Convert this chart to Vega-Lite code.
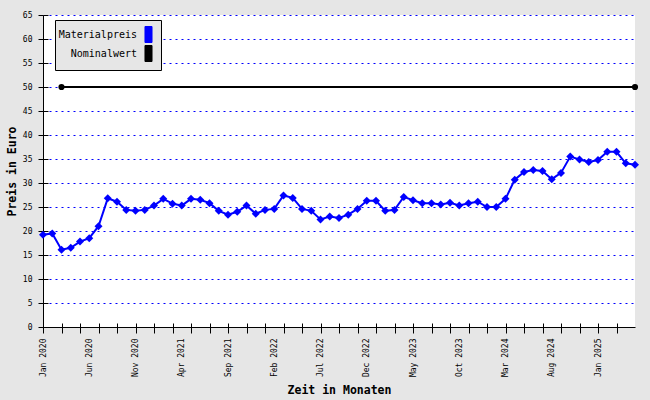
{
  "$schema": "https://vega.github.io/schema/vega-lite/v6.json",
  "width": 592,
  "height": 312,
  "autosize": {"type": "none"},
  "padding": {"left": 43, "top": 15, "right": 15, "bottom": 73},
  "background": "#e6e6e6",
  "config": {
    "view": {"fill": "#ffffff", "stroke": null},
    "font": "DejaVu Sans Mono",
    "axis": {
      "domainColor": "#000000",
      "tickColor": "#000000",
      "labelColor": "#000000",
      "titleColor": "#000000",
      "labelFont": "DejaVu Sans Mono",
      "titleFont": "DejaVu Sans Mono"
    }
  },
  "data": {
    "values": [
      {"series": "Materialpreis", "month": "2020-01", "price": 19.2},
      {"series": "Materialpreis", "month": "2020-02", "price": 19.5},
      {"series": "Materialpreis", "month": "2020-03", "price": 16.1},
      {"series": "Materialpreis", "month": "2020-04", "price": 16.5},
      {"series": "Materialpreis", "month": "2020-05", "price": 17.8},
      {"series": "Materialpreis", "month": "2020-06", "price": 18.5},
      {"series": "Materialpreis", "month": "2020-07", "price": 21.0},
      {"series": "Materialpreis", "month": "2020-08", "price": 26.8},
      {"series": "Materialpreis", "month": "2020-09", "price": 26.1},
      {"series": "Materialpreis", "month": "2020-10", "price": 24.4},
      {"series": "Materialpreis", "month": "2020-11", "price": 24.2},
      {"series": "Materialpreis", "month": "2020-12", "price": 24.4},
      {"series": "Materialpreis", "month": "2021-01", "price": 25.3},
      {"series": "Materialpreis", "month": "2021-02", "price": 26.7},
      {"series": "Materialpreis", "month": "2021-03", "price": 25.7},
      {"series": "Materialpreis", "month": "2021-04", "price": 25.3},
      {"series": "Materialpreis", "month": "2021-05", "price": 26.7},
      {"series": "Materialpreis", "month": "2021-06", "price": 26.5},
      {"series": "Materialpreis", "month": "2021-07", "price": 25.8},
      {"series": "Materialpreis", "month": "2021-08", "price": 24.2},
      {"series": "Materialpreis", "month": "2021-09", "price": 23.4},
      {"series": "Materialpreis", "month": "2021-10", "price": 24.0},
      {"series": "Materialpreis", "month": "2021-11", "price": 25.3},
      {"series": "Materialpreis", "month": "2021-12", "price": 23.6},
      {"series": "Materialpreis", "month": "2022-01", "price": 24.4},
      {"series": "Materialpreis", "month": "2022-02", "price": 24.6},
      {"series": "Materialpreis", "month": "2022-03", "price": 27.4},
      {"series": "Materialpreis", "month": "2022-04", "price": 26.9},
      {"series": "Materialpreis", "month": "2022-05", "price": 24.6},
      {"series": "Materialpreis", "month": "2022-06", "price": 24.2},
      {"series": "Materialpreis", "month": "2022-07", "price": 22.4},
      {"series": "Materialpreis", "month": "2022-08", "price": 23.0},
      {"series": "Materialpreis", "month": "2022-09", "price": 22.7},
      {"series": "Materialpreis", "month": "2022-10", "price": 23.4},
      {"series": "Materialpreis", "month": "2022-11", "price": 24.6},
      {"series": "Materialpreis", "month": "2022-12", "price": 26.3},
      {"series": "Materialpreis", "month": "2023-01", "price": 26.3},
      {"series": "Materialpreis", "month": "2023-02", "price": 24.2},
      {"series": "Materialpreis", "month": "2023-03", "price": 24.4},
      {"series": "Materialpreis", "month": "2023-04", "price": 27.1},
      {"series": "Materialpreis", "month": "2023-05", "price": 26.4},
      {"series": "Materialpreis", "month": "2023-06", "price": 25.8},
      {"series": "Materialpreis", "month": "2023-07", "price": 25.8},
      {"series": "Materialpreis", "month": "2023-08", "price": 25.5},
      {"series": "Materialpreis", "month": "2023-09", "price": 25.9},
      {"series": "Materialpreis", "month": "2023-10", "price": 25.3},
      {"series": "Materialpreis", "month": "2023-11", "price": 25.8},
      {"series": "Materialpreis", "month": "2023-12", "price": 26.1},
      {"series": "Materialpreis", "month": "2024-01", "price": 25.0},
      {"series": "Materialpreis", "month": "2024-02", "price": 25.0},
      {"series": "Materialpreis", "month": "2024-03", "price": 26.7},
      {"series": "Materialpreis", "month": "2024-04", "price": 30.7},
      {"series": "Materialpreis", "month": "2024-05", "price": 32.3},
      {"series": "Materialpreis", "month": "2024-06", "price": 32.7},
      {"series": "Materialpreis", "month": "2024-07", "price": 32.5},
      {"series": "Materialpreis", "month": "2024-08", "price": 30.8},
      {"series": "Materialpreis", "month": "2024-09", "price": 32.1},
      {"series": "Materialpreis", "month": "2024-10", "price": 35.5},
      {"series": "Materialpreis", "month": "2024-11", "price": 34.9},
      {"series": "Materialpreis", "month": "2024-12", "price": 34.4},
      {"series": "Materialpreis", "month": "2025-01", "price": 34.8},
      {"series": "Materialpreis", "month": "2025-02", "price": 36.5},
      {"series": "Materialpreis", "month": "2025-03", "price": 36.5},
      {"series": "Materialpreis", "month": "2025-04", "price": 34.1},
      {"series": "Materialpreis", "month": "2025-05", "price": 33.8},
      {"series": "Nominalwert", "month": "2020-03", "price": 50},
      {"series": "Nominalwert", "month": "2025-05", "price": 50}
    ]
  },
  "encoding": {
    "color": {
      "field": "series",
      "type": "nominal",
      "scale": {"domain": ["Materialpreis", "Nominalwert"], "range": ["#0000ff", "#000000"]},
      "legend": {
        "title": null,
        "orient": "none",
        "legendX": 12,
        "legendY": 5,
        "fillColor": "#e6e6e6",
        "strokeColor": "#000000",
        "padding": 6,
        "rowPadding": -4,
        "symbolType": "M-0.44,-1H0.44V1H-0.44Z",
        "symbolSize": 256,
        "symbolStrokeWidth": 1,
        "symbolStrokeColor": "#000000",
        "labelFont": "DejaVu Sans Mono",
        "labelFontSize": 10,
        "labelColor": "#000000",
        "encode": {
          "symbols": {"update": {"x": {"value": 87.5}, "shape": {"value": "M-0.44,-1H0.44V1H-0.44Z"}, "size": {"value": 256}, "fill": {"scale": "color", "field": "value"}, "stroke": {"value": "#000000"}, "strokeWidth": {"value": 1}, "fillOpacity": {"value": 1}, "opacity": {"value": 1}}},
          "labels": {"update": {"x": {"value": 76}, "align": {"value": "right"}}}
        }
      }
    }
  },
  "resolve": {"axis": {"x": "independent", "y": "independent"}},
  "layer": [
    {
      "mark": {"type": "line", "strokeWidth": 2},
      "encoding": {
        "x": {
          "field": "month",
          "type": "ordinal",
          "scale": {"type": "point", "padding": 0},
          "axis": {
            "orient": "bottom",
            "title": "Zeit in Monaten",
            "titleFontSize": 11.5,
            "titleFontWeight": "bold",
            "titleY": 66,
            "titleBaseline": "alphabetic",
            "labelAngle": 270,
            "labelAlign": "right",
            "labelBaseline": "middle",
            "labelFontSize": 8,
            "labelPadding": 5,
            "labelOverlap": false,
            "labelExpr": "((toNumber(substring(datum.value,0,4))-2020)*12 + toNumber(substring(datum.value,5,7)) - 1) % 5 == 0 ? timeFormat(datetime(toNumber(substring(datum.value,0,4)), toNumber(substring(datum.value,5,7))-1, 1), '%b %Y') : ''",
            "tickSize": 6,
            "tickOpacity": {
              "condition": {
                "test": "((toNumber(substring(datum.value,0,4))-2020)*12 + toNumber(substring(datum.value,5,7)) - 1) % 2 == 0 && ((toNumber(substring(datum.value,0,4))-2020)*12 + toNumber(substring(datum.value,5,7)) - 1) < 64",
                "value": 1
              },
              "value": 0
            },
            "grid": false
          }
        },
        "y": {
          "field": "price",
          "type": "quantitative",
          "scale": {"domain": [0, 65], "nice": false},
          "axis": {
            "orient": "left",
            "title": "Preis in Euro",
            "titleFontSize": 11.5,
            "titleFontWeight": "bold",
            "titleAngle": -90,
            "titleX": -28,
            "titleY": 156,
            "titleAlign": "center",
            "titleBaseline": "alphabetic",
            "values": [0, 5, 10, 15, 20, 25, 30, 35, 40, 45, 50, 55, 60, 65],
            "labelFontSize": 8,
            "labelPadding": 6,
            "tickSize": 5,
            "grid": true,
            "gridColor": "#0000ff",
            "gridDash": [2, 4],
            "gridWidth": 1
          }
        },
        "detail": {"field": "series"}
      }
    },
    {
      "transform": [{"filter": "datum.series == 'Materialpreis'"}],
      "mark": {"type": "point", "filled": true, "opacity": 1, "shape": "diamond", "size": 64},
      "encoding": {
        "x": {
          "field": "month",
          "type": "ordinal",
          "axis": {
            "orient": "bottom",
            "title": null,
            "labels": false,
            "domain": false,
            "grid": false,
            "tickSize": -4,
            "tickOpacity": {
              "condition": {
                "test": "((toNumber(substring(datum.value,0,4))-2020)*12 + toNumber(substring(datum.value,5,7)) - 1) % 2 == 0 && ((toNumber(substring(datum.value,0,4))-2020)*12 + toNumber(substring(datum.value,5,7)) - 1) < 64",
                "value": 1
              },
              "value": 0
            }
          }
        },
        "y": {
          "field": "price",
          "type": "quantitative",
          "axis": {
            "orient": "left",
            "title": null,
            "labels": false,
            "domain": false,
            "grid": false,
            "values": [0, 5, 10, 15, 20, 25, 30, 35, 40, 45, 50, 55, 60, 65],
            "tickSize": -5
          }
        }
      }
    },
    {
      "transform": [{"filter": "datum.series == 'Nominalwert'"}],
      "mark": {"type": "point", "filled": true, "opacity": 1, "shape": "circle", "size": 38},
      "encoding": {
        "x": {"field": "month", "type": "ordinal", "axis": null},
        "y": {"field": "price", "type": "quantitative", "axis": null}
      }
    }
  ]
}
